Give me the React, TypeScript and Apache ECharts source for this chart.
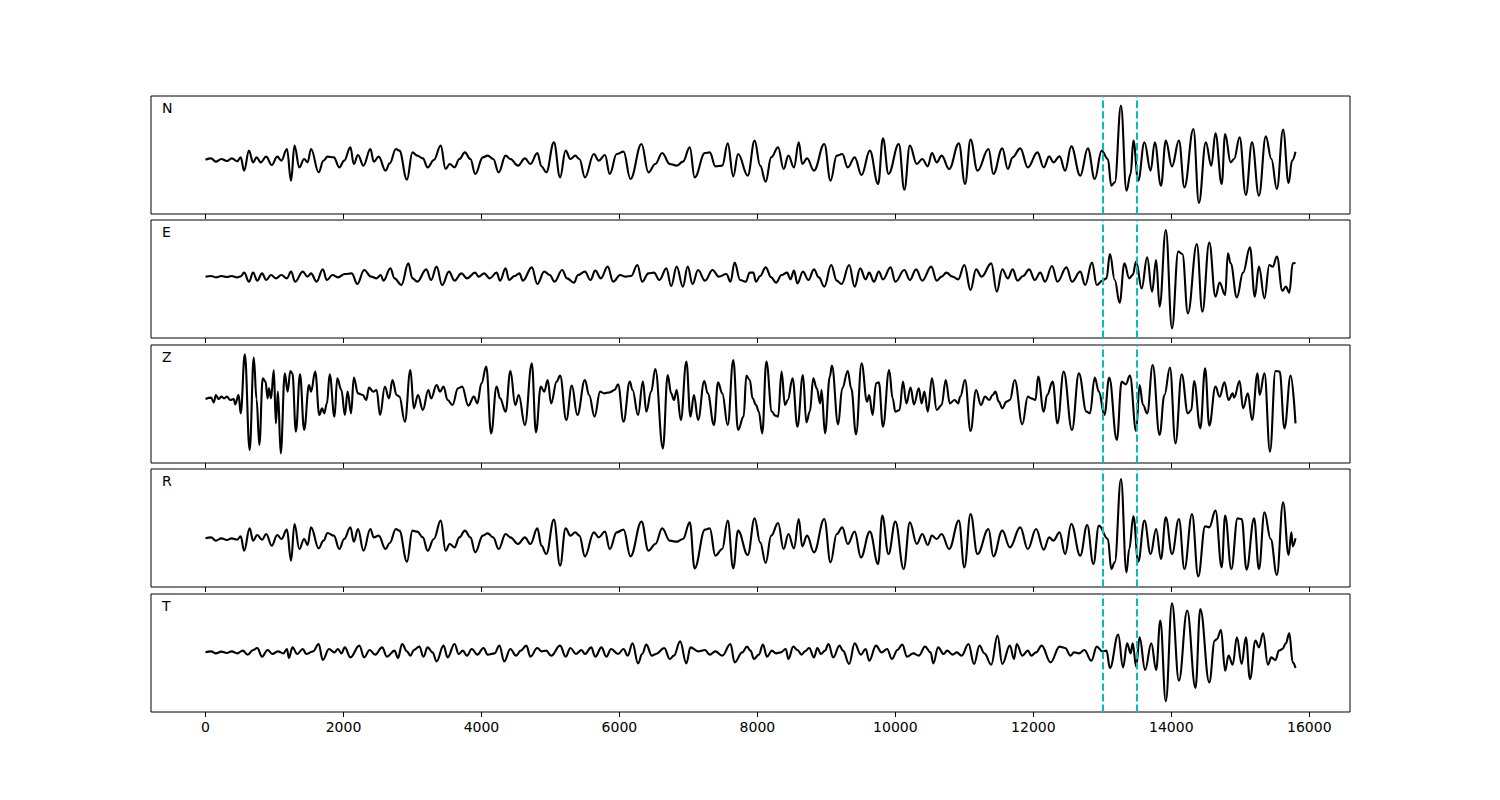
import React, { useEffect, useRef } from "react";
import * as echarts from "echarts";

// x-axis ticks and the two picked times (samples)
const TICKS = [0, 2000, 4000, 6000, 8000, 10000, 12000, 14000, 16000];
const PICKS = [13000, 13500];
const COMPONENTS = ["N", "E", "Z", "R", "T"];

// [sample, amplitude], one list per component
const N_TRACE = [
  [0, 1], [80, 5], [150, -5], [230, 3], [310, -3], [380, 5], [460, -4], [510, 8], [560, -32], [630, 28], [690, -7], [740, 8], [800, -7], [880, 10], [960, -15], [1040, 10], [1100, -2], [1180, 33], [1240, -62], [1290, 43], [1360, -22], [1430, 3], [1480, -7], [1530, 33], [1640, -37], [1710, -2], [1770, 10], [1860, 8], [1940, -22], [2010, -2], [2100, 38], [2150, -12], [2210, 15], [2290, -17], [2390, 33], [2440, -5], [2510, 10], [2610, -32], [2670, -10], [2760, 33], [2810, 28], [2920, -59], [3000, 23], [3070, 13], [3150, 5], [3220, -22], [3310, 0], [3410, 43], [3480, -27], [3540, -12], [3610, -22], [3680, 3], [3760, 23], [3840, 3], [3910, -42], [4020, 8], [4090, 13], [4170, 3], [4250, -37], [4350, 13], [4420, 3], [4530, -17], [4630, 5], [4710, -12], [4810, 21], [4870, -19], [4940, -37], [5050, 53], [5140, -52], [5220, 28], [5290, 3], [5360, 13], [5420, 3], [5500, -52], [5630, 18], [5700, -2], [5790, 15], [5860, -42], [5960, 18], [6060, 25], [6160, -57], [6320, 48], [6420, -37], [6520, -12], [6620, 21], [6730, -12], [6830, -17], [6920, -5], [7020, 38], [7090, -52], [7240, 21], [7310, 23], [7390, -19], [7490, -17], [7570, 50], [7650, -49], [7720, 18],
  [7860, -47], [7960, 58], [8040, -17], [8120, -65], [8200, 8], [8300, 38], [8380, -27], [8450, 13], [8530, -22], [8600, 53], [8650, -12], [8720, 5], [8820, -32], [8970, 48], [9060, -62], [9150, 13], [9230, 18], [9310, -22], [9410, 8], [9510, -45], [9630, 28], [9750, -72], [9820, 65], [9900, -42], [10050, 48], [10130, -89], [10210, 43], [10310, -12], [10390, 3], [10470, -19], [10530, 21], [10600, -7], [10670, 13], [10780, -27], [10920, 50], [11010, -72], [11090, 61], [11190, -32], [11350, 33], [11420, -42], [11550, 35], [11630, -27], [11700, 8], [11810, 35], [11920, -22], [12060, 23], [12150, -22], [12230, 11], [12290, -7], [12380, 11], [12460, -32], [12550, 41], [12680, -47], [12790, 35], [12890, -57], [12990, 28], [13080, 3], [13130, -77], [13180, -67], [13270, 163], [13350, -92], [13410, -42], [13450, 58], [13520, -62], [13610, 53], [13700, -32], [13760, 53], [13850, -77], [13920, 58], [14010, -19], [14110, 58], [14190, -82], [14320, 93], [14400, -129], [14500, 53], [14580, -17], [14640, 80], [14730, -72], [14780, 78], [14860, -7], [14910, 3], [14990, 68], [15080, -105], [15170, 53], [15270, -107], [15370, 71], [15450, 3], [15530, -87], [15620, 91], [15700, -69], [15750, -2], [15800, 25],
];

const E_TRACE = [
  [0, 0], [80, 2], [150, -2], [230, 2], [310, -1], [380, 2], [460, -2], [510, 1], [560, 12], [630, -15], [690, 12], [750, -12], [820, 10], [880, -10], [950, 5], [1020, -5], [1100, 5], [1180, -5], [1240, 15], [1300, -15], [1410, 15], [1480, 0], [1530, 10], [1610, -15], [1700, 22], [1760, -10], [1840, 5], [1920, -2], [2020, 8], [2120, 10], [2200, -22], [2300, 20], [2400, 0], [2480, -5], [2540, 5], [2580, -12], [2680, 25], [2740, -5], [2840, -25], [2940, 40], [3000, -5], [3070, -15], [3200, 22], [3270, -10], [3350, 30], [3430, -25], [3530, 15], [3610, -12], [3710, 10], [3790, -5], [3910, 12], [3960, 0], [4040, 10], [4120, -5], [4220, 12], [4270, -12], [4350, 25], [4400, -10], [4480, 2], [4550, 10], [4600, -12], [4730, 28], [4810, -22], [4910, 15], [4990, 5], [5060, -15], [5170, 20], [5240, -5], [5340, -18], [5400, 5], [5500, 15], [5580, -10], [5650, 18], [5730, -5], [5830, 30], [5910, -15], [6010, 5], [6090, 0], [6170, 2], [6260, 35], [6330, -15], [6420, 10], [6500, 12], [6580, -10], [6680, 25], [6750, -28], [6830, 30], [6920, -30], [6990, 30], [7060, -22], [7140, 20], [7240, -12], [7350, 20], [7440, 0], [7550, 8], [7610, -15], [7670, 42], [7750, -10], [7830, -15],
  [7890, 12], [7940, 12], [7980, -15], [8040, 2], [8120, 28], [8200, -2], [8270, -18], [8350, 5], [8430, 12], [8480, -8], [8530, 18], [8580, -20], [8660, 15], [8740, -10], [8820, 22], [8890, -2], [8970, -30], [9070, 35], [9150, -12], [9220, -22], [9330, 35], [9410, -30], [9490, 25], [9570, -8], [9620, 12], [9690, -15], [9760, 15], [9820, -8], [9930, 28], [10000, -15], [10130, 20], [10210, -10], [10300, 22], [10390, -12], [10520, 30], [10600, -12], [10670, 0], [10740, 12], [10830, 0], [10910, -8], [11000, 35], [11090, -40], [11170, 22], [11250, 0], [11390, 40], [11470, -45], [11550, 22], [11630, -5], [11700, 22], [11770, -12], [11850, 2], [11940, 22], [12020, -10], [12100, 12], [12170, -15], [12270, 32], [12350, -15], [12480, 28], [12560, -15], [12680, 15], [12750, -25], [12850, 42], [12920, -25], [13000, -12], [13060, -5], [13110, 68], [13180, -10], [13250, -78], [13320, 40], [13390, -5], [13440, 5], [13490, 45], [13570, -35], [13650, 58], [13720, -45], [13780, 50], [13830, -90], [13920, 140], [14010, -155], [14100, 75], [14160, 68], [14240, -110], [14370, 98], [14450, -105], [14550, 102], [14640, -60], [14700, -18], [14780, -55], [14820, 70], [14860, 40], [14950, -62], [15040, 12], [15140, 88], [15210, -60], [15270, 30], [15350, -65], [15420, 35], [15470, 30], [15530, 60], [15610, -42], [15660, -30], [15710, -48], [15760, 40], [15800, 42],
];

const Z_TRACE = [
  [0, 0], [80, 4], [120, -10], [150, 12], [190, 0], [230, 7], [270, 2], [310, 7], [360, -3], [410, 0], [430, -16], [480, 12], [510, -43], [570, 134], [640, -153], [700, 124], [740, 0], [780, -138], [830, 62], [870, 52], [900, 2], [920, 32], [950, 2], [990, 87], [1020, -73], [1050, 22], [1090, -163], [1150, 77], [1190, 22], [1230, 84], [1260, 77], [1310, -98], [1370, 74], [1430, -93], [1500, 42], [1530, 22], [1590, 82], [1650, -48], [1690, -28], [1720, -43], [1760, -13], [1800, 74], [1870, -53], [1910, 62], [1970, 27], [2020, -48], [2060, 22], [2110, -43], [2150, 64], [2210, 17], [2280, 12], [2330, -3], [2370, 34], [2430, 22], [2480, 27], [2530, -48], [2600, 37], [2660, 2], [2710, 57], [2770, 12], [2810, 7], [2890, -68], [2970, 87], [3020, -28], [3080, 12], [3150, -33], [3230, 27], [3270, 2], [3350, 42], [3400, 22], [3450, 37], [3510, -3], [3580, -18], [3660, 32], [3720, 37], [3810, -20], [3890, 7], [3940, -13], [4000, 47], [4070, 97], [4140, -103], [4220, 37], [4270, 2], [4350, -38], [4420, 84], [4490, -18], [4540, 12], [4630, -78], [4730, 107], [4790, -100], [4860, 37], [4910, 22], [4960, 57], [5010, -13], [5090, 52], [5140, 70], [5230, -63], [5310, 40], [5390, -48], [5500, 57], [5560, 12], [5640, -53], [5720, 22], [5780, 17], [5860, 20], [5930, 27], [5980, 44], [6060, -68], [6150, 52], [6190, 27], [6270, -48], [6340, 52], [6390, -38], [6460, 22], [6520, 90], [6630, -148], [6700, 72], [6750, 17], [6790, -3], [6830, 27], [6890, -63], [6970, 112], [7030, -53], [7080, 12], [7140, -63], [7230, 54], [7280, 17], [7370, -78], [7430, 50], [7490, 17], [7570, -78], [7650, 117], [7720, -93], [7800, -53], [7840, 70],
  [7890, 57], [7930, 2], [7980, -18], [8020, -38], [8070, -103], [8130, 112], [8210, -38], [8260, -50], [8300, -53], [8350, 82], [8400, -18], [8440, -3], [8510, 62], [8580, -83], [8660, 72], [8710, -70], [8760, -38], [8810, 62], [8860, 32], [8910, -13], [8930, 27], [8980, -103], [9050, 67], [9080, 100], [9170, -76], [9230, 32], [9310, 84], [9360, 32], [9430, -106], [9510, 107], [9590, -8], [9620, 12], [9670, -48], [9720, 47], [9760, 50], [9820, -83], [9910, 87], [9960, 2], [10000, -38], [10060, -33], [10110, 52], [10160, -13], [10220, 34], [10270, -16], [10340, 32], [10380, -13], [10420, 22], [10470, -38], [10530, 62], [10600, -33], [10670, -18], [10730, 57], [10790, -13], [10860, -3], [10910, -13], [10940, 7], [11010, 57], [11090, -96], [11170, 27], [11240, -18], [11300, 7], [11360, -3], [11410, 12], [11450, 22], [11500, -8], [11550, -28], [11610, -8], [11660, -3], [11730, 57], [11840, -76], [11920, 7], [11970, 2], [12030, -3], [12070, 67], [12150, -38], [12200, 12], [12280, 52], [12350, -73], [12440, 82], [12560, -93], [12660, 77], [12770, -38], [12820, -43], [12890, 64], [12950, 22], [13030, -48], [13100, 64], [13210, -123], [13280, 52], [13340, 44], [13400, 70], [13490, -96], [13540, 42], [13590, -18], [13650, -43], [13730, 102], [13830, -108], [13900, 12], [13980, 94], [14060, -133], [14150, 74], [14240, -43], [14290, -33], [14330, 54], [14420, -88], [14490, 92], [14550, -80], [14640, 37], [14700, 7], [14770, 50], [14830, -3], [14890, 17], [14910, 4], [14990, 54], [15040, -28], [15110, 17], [15170, -63], [15250, 77], [15280, 12], [15350, 77], [15430, -158], [15510, 84], [15570, 82], [15640, -88], [15730, 70], [15800, -73],
];

const R_TRACE = [
  [0, 0], [80, 3], [150, -7], [230, 0], [310, -5], [380, 0], [460, -4], [510, 6], [560, -37], [640, 30], [690, -7], [750, 10], [820, -4], [880, 13], [960, -22], [1040, 10], [1100, -2], [1180, 26], [1240, -67], [1290, 43], [1360, -32], [1430, -2], [1480, -20], [1530, 33], [1640, -30], [1710, -7], [1770, 16], [1860, 8], [1940, -32], [2010, -2], [2100, 33], [2150, -10], [2210, 28], [2290, -37], [2390, 28], [2440, 3], [2510, 8], [2610, -32], [2670, -14], [2760, 28], [2810, 23], [2920, -70], [3000, 23], [3070, 20], [3150, 3], [3220, -37], [3310, -2], [3410, 53], [3480, -37], [3540, -17], [3610, -27], [3680, 3], [3760, 23], [3840, 3], [3910, -42], [4020, 8], [4090, 15], [4170, 3], [4250, -32], [4350, 13], [4420, 3], [4530, -17], [4630, 3], [4710, -17], [4810, 30], [4870, -22], [4940, -47], [5050, 56], [5140, -82], [5220, 30], [5290, 8], [5360, 18], [5420, 8], [5500, -54], [5630, 18], [5700, 3], [5790, 20], [5860, -32], [5960, 18], [6060, 26], [6160, -54], [6320, 50], [6420, -37], [6520, -17], [6620, 30], [6730, -7], [6830, -10], [6920, -2], [7020, 48], [7090, -90], [7240, 26], [7310, 30], [7390, -52], [7490, -32], [7570, 53], [7650, -90], [7720, 23],
  [7860, -50], [7960, 60], [8040, -12], [8120, -74], [8200, 8], [8300, 46], [8380, -32], [8450, 13], [8530, -30], [8600, 58], [8650, -24], [8720, 8], [8820, -42], [8970, 58], [9060, -72], [9150, 13], [9230, 33], [9310, -17], [9410, 20], [9500, -57], [9630, 20], [9750, -77], [9810, 68], [9900, -47], [10000, 50], [10120, -92], [10210, 48], [10310, -17], [10390, 13], [10470, -20], [10530, 8], [10600, -2], [10670, 13], [10780, -32], [10920, 53], [11000, -87], [11090, 73], [11190, -47], [11350, 28], [11420, -54], [11550, 23], [11660, -27], [11810, 33], [11920, -32], [12040, 28], [12150, -34], [12230, 3], [12290, -7], [12380, 18], [12460, -47], [12550, 43], [12680, -52], [12780, 40], [12870, -77], [12950, 38], [13080, -2], [13130, -92], [13180, -72], [13270, 178], [13350, -102], [13390, -32], [13450, 66], [13520, -70], [13610, 53], [13700, -47], [13780, 28], [13850, -62], [13920, 63], [14010, -47], [14110, 58], [14190, -92], [14300, 73], [14390, -114], [14490, 36], [14550, 33], [14640, 83], [14730, -87], [14780, 68], [14870, -92], [14960, 60], [15020, 58], [15090, -94], [15200, 60], [15270, -92], [15350, 78], [15440, -2], [15530, -110], [15620, 108], [15700, -50], [15740, 18], [15760, -24], [15800, 0],
];

const T_TRACE = [
  [0, 0], [80, 3], [150, -3], [230, 2], [310, -2], [380, 3], [460, -3], [540, 5], [610, -7], [690, 7], [750, 13], [820, -13], [900, 7], [970, -5], [1050, 3], [1130, -3], [1180, 10], [1210, -17], [1260, 15], [1330, -5], [1410, 10], [1460, -5], [1560, 3], [1640, 25], [1700, -23], [1790, 10], [1870, 0], [1920, 10], [1970, -3], [2020, 15], [2100, -15], [2230, 20], [2300, -15], [2380, 7], [2460, -7], [2560, 15], [2630, -13], [2740, 5], [2790, -17], [2850, 25], [2920, 3], [2970, -10], [3020, 7], [3100, 17], [3160, -13], [3220, 15], [3290, 0], [3350, -27], [3450, 20], [3510, -15], [3610, 25], [3670, -5], [3730, 5], [3790, -10], [3860, 10], [3940, -7], [4030, 13], [4090, -7], [4190, -3], [4260, 20], [4330, -27], [4420, 10], [4500, -10], [4570, 5], [4650, 20], [4710, -13], [4810, 13], [4870, 3], [4940, 5], [5010, -10], [5140, 20], [5220, -13], [5290, 13], [5370, -5], [5450, 7], [5500, -5], [5590, 15], [5650, -13], [5740, 15], [5810, -13], [5880, 10], [5980, -5], [6060, 10], [6120, -10], [6190, 27], [6270, -33], [6330, -5], [6390, 23], [6470, -10], [6530, -5], [6650, 13], [6730, -20], [6790, -10], [6880, 33], [6970, -33], [7030, 15], [7140, 3], [7240, 7], [7310, -7], [7390, 3], [7490, -10], [7610, 25], [7670, -30], [7780, 0], [7850, 17],
  [7900, 5], [7950, -20], [8020, -7], [8080, 23], [8140, -13], [8210, 5], [8270, -3], [8340, 0], [8410, 10], [8450, -20], [8520, 17], [8580, 7], [8640, -7], [8690, 3], [8750, 13], [8820, -15], [8870, 13], [8920, -5], [8980, 5], [9030, 25], [9100, -15], [9190, 20], [9240, 5], [9330, -35], [9410, 27], [9500, -7], [9570, 10], [9620, -25], [9720, 20], [9800, 0], [9880, 10], [9950, -20], [10030, 7], [10100, 23], [10170, -13], [10260, -3], [10340, -10], [10430, 17], [10510, 0], [10550, -33], [10620, 15], [10700, -5], [10750, 5], [10830, -7], [10890, 0], [10960, -10], [11060, 25], [11140, -35], [11220, 20], [11290, -3], [11390, -37], [11480, 50], [11550, -35], [11660, 20], [11720, -20], [11760, 25], [11840, -10], [11920, 5], [11970, -10], [12040, 0], [12120, 20], [12250, -30], [12380, 17], [12460, 13], [12540, -10], [12590, 0], [12660, -3], [12740, 7], [12840, -25], [12920, 17], [13000, 3], [13060, 5], [13110, -47], [13230, 53], [13300, -45], [13360, 27], [13410, -3], [13440, 27], [13490, -43], [13540, 45], [13620, -53], [13710, 27], [13780, -53], [13840, 95], [13920, -147], [14010, 147], [14110, -85], [14230, 125], [14350, -107], [14420, 130], [14550, -90], [14630, 35], [14660, 40], [14720, 67], [14780, -55], [14830, -10], [14890, -37], [14950, 45], [15020, -35], [15080, 45], [15140, -80], [15220, 35], [15270, 15], [15330, 57], [15400, -37], [15450, -15], [15510, -23], [15560, 5], [15610, 10], [15660, 27], [15710, 57], [15760, -30], [15800, -47],
];

const TRACES = [N_TRACE, E_TRACE, Z_TRACE, R_TRACE, T_TRACE];
// amplitude limits of each panel [min, max]
const Y_LIMITS = [
  [-162, 192],
  [-184, 170],
  [-192, 162],
  [-146, 208],
  [-179, 175],
];
const X_LIMITS = [-790, 16590];

const PANEL_TOPS = [96, 220, 345, 469, 594];
const PANEL_LEFT = 151;
const PANEL_WIDTH = 1199;
const PANEL_HEIGHT = 118;
const FONT = "DejaVu Sans";

export default function App() {
  const ref = useRef<HTMLDivElement>(null);

  useEffect(() => {
    if (!ref.current) return;
    const chart = echarts.init(ref.current, undefined, { renderer: "svg" });
    const last = TRACES.length - 1;

    const option: any = {
      animation: false,
      backgroundColor: "#ffffff",
      grid: PANEL_TOPS.map((top) => ({
        left: PANEL_LEFT,
        top,
        width: PANEL_WIDTH,
        height: PANEL_HEIGHT,
        show: true,
        borderColor: "#000000",
        borderWidth: 1,
        backgroundColor: "transparent",
        containLabel: false,
      })),
      xAxis: TRACES.map((_, i) => ({
        type: "value",
        gridIndex: i,
        position: "bottom",
        min: X_LIMITS[0],
        max: X_LIMITS[1],
        axisLine: { show: false, onZero: false },
        splitLine: { show: false },
        axisTick: {
          show: true,
          customValues: TICKS,
          length: 5,
          inside: false,
          lineStyle: { color: "#000000", width: 1 },
        },
        axisLabel: {
          show: i === last,
          customValues: TICKS,
          formatter: (v: number) => String(v),
          color: "#000000",
          fontSize: 14,
          fontFamily: FONT,
          margin: 8,
        },
      })),
      yAxis: TRACES.map((_, i) => ({
        type: "value",
        gridIndex: i,
        min: Y_LIMITS[i][0],
        max: Y_LIMITS[i][1],
        show: false,
        splitLine: { show: false },
      })),
      series: TRACES.map((data, i) => ({
        type: "line",
        name: COMPONENTS[i],
        xAxisIndex: i,
        yAxisIndex: i,
        data,
        symbol: "none",
        showSymbol: false,
        smooth: 0.4,
        smoothMonotone: "x",
        silent: true,
        lineStyle: { color: "#000000", width: 2.1 },
        markLine: {
          silent: true,
          symbol: ["none", "none"],
          label: { show: false },
          lineStyle: { color: "#00bfbf", width: 2, type: [7.4, 3.2] },
          data: PICKS.map((v) => ({ xAxis: v })),
        },
      })),
      graphic: COMPONENTS.map((name, i) => ({
        type: "text",
        left: 162,
        top: PANEL_TOPS[i] + 5,
        style: {
          text: name,
          fontSize: 14,
          fontFamily: FONT,
          fill: "#000000",
        },
      })),
    };

    chart.setOption(option);
    return () => chart.dispose();
  }, []);

  return (
    <div
      ref={ref}
      style={{
        position: "fixed",
        left: 0,
        top: 0,
        width: 1500,
        height: 800,
        background: "#ffffff",
      }}
    />
  );
}
